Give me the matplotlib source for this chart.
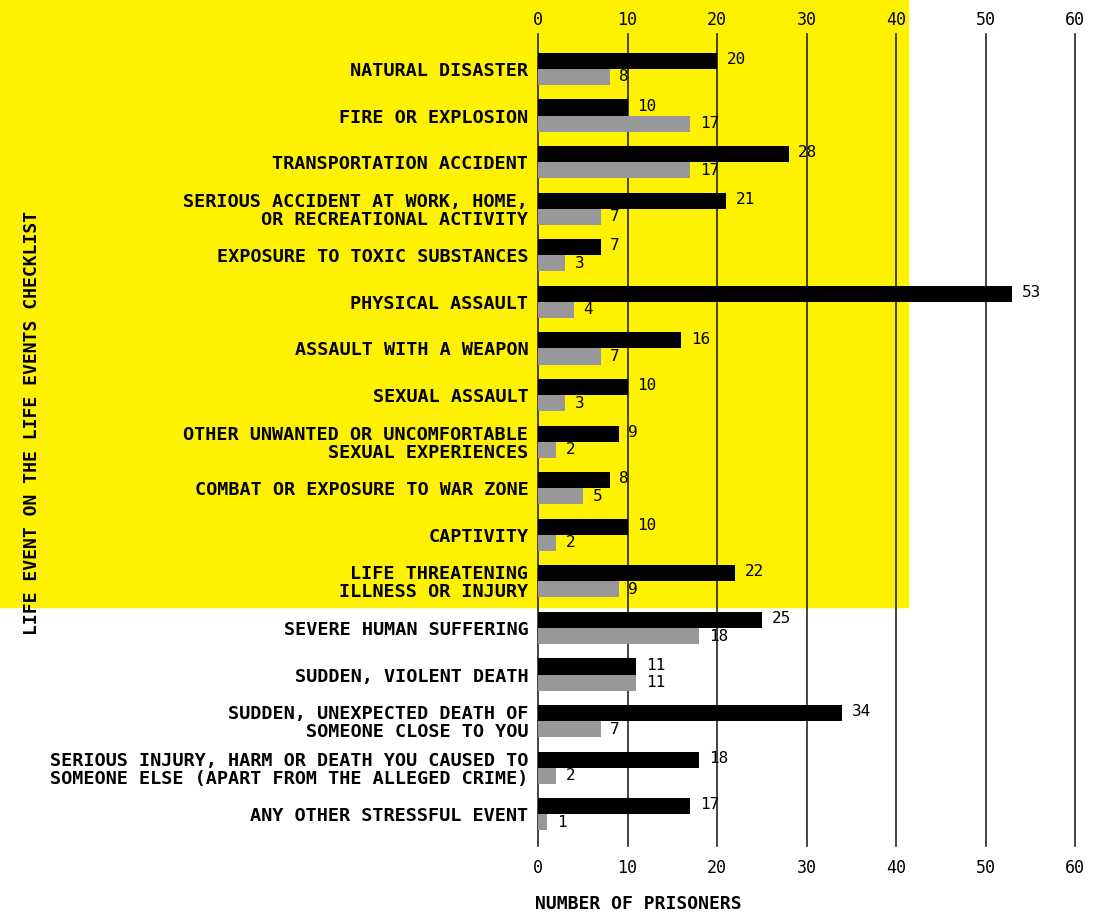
import matplotlib
matplotlib.use('Agg')
import matplotlib.pyplot as plt
from matplotlib.patches import Rectangle
import numpy as np

plt.rcParams['font.family'] = ['DejaVu Sans Mono']

events = ['NATURAL DISASTER',
          'FIRE OR EXPLOSION',
          'TRANSPORTATION ACCIDENT',
          'SERIOUS ACCIDENT AT WORK, HOME,\nOR RECREATIONAL ACTIVITY',
          'EXPOSURE TO TOXIC SUBSTANCES',
          'PHYSICAL ASSAULT',
          'ASSAULT WITH A WEAPON',
          'SEXUAL ASSAULT',
          'OTHER UNWANTED OR UNCOMFORTABLE\nSEXUAL EXPERIENCES',
          'COMBAT OR EXPOSURE TO WAR ZONE',
          'CAPTIVITY',
          'LIFE THREATENING\nILLNESS OR INJURY',
          'SEVERE HUMAN SUFFERING',
          'SUDDEN, VIOLENT DEATH',
          'SUDDEN, UNEXPECTED DEATH OF\nSOMEONE CLOSE TO YOU',
          'SERIOUS INJURY, HARM OR DEATH YOU CAUSED TO\nSOMEONE ELSE (APART FROM THE ALLEGED CRIME)',
          'ANY OTHER STRESSFUL EVENT']
black_vals = [20, 10, 28, 21, 7, 53, 16, 10, 9, 8, 10, 22, 25, 11, 34, 18, 17]
gray_vals = [8, 17, 17, 7, 3, 4, 7, 3, 2, 5, 2, 9, 18, 11, 7, 2, 1]
xticks = [0, 10, 20, 30, 40, 50, 60]

fig = plt.figure(figsize=(11.16, 9.15), dpi=100)

# yellow highlight behind the first twelve events
fig.patches.append(Rectangle((0, 1 - 607 / 915), 908 / 1116, 607 / 915,
                             transform=fig.transFigure, color='#fff200', zorder=-10))

ax = fig.add_axes([538 / 1116, 69 / 915, 537 / 1116, 812 / 915])
ax.set_facecolor('none')
ax.set_zorder(1)

y = np.arange(len(events))
h = 0.345
ax.barh(y - h / 2, black_vals, height=h, color='black', zorder=3)
ax.barh(y + h / 2, gray_vals, height=h, color='#98989a', zorder=3)

for i in range(len(events)):
    ax.annotate(str(black_vals[i]), (black_vals[i], y[i] - h / 2), xytext=(7, 1),
                textcoords='offset points', va='center', ha='left', fontsize=11.5, zorder=4)
    ax.annotate(str(gray_vals[i]), (gray_vals[i], y[i] + h / 2), xytext=(7, 0),
                textcoords='offset points', va='center', ha='left', fontsize=11.5, zorder=4)

ax.set_xlim(0, 60)
ax.set_ylim(len(events) - 0.32, -0.75)
ax.set_xticks(xticks)
ax.grid(axis='x', color='#111111', linewidth=1.1, zorder=1)
for gl in ax.get_xgridlines():
    gl.set_clip_on(False)
ax.tick_params(axis='x', length=0, pad=9.5, labelsize=12)

# top tick labels sit closer to the gridlines than the bottom ones
top = ax.secondary_xaxis('top')
top.set_xticks(xticks)
top.tick_params(length=0, pad=3.5, labelsize=12)
for s in top.spines.values():
    s.set_visible(False)

ax.set_yticks(y)
ax.set_yticklabels(events, fontsize=13.3, fontweight='bold', linespacing=1.0)
ax.tick_params(axis='y', length=0, pad=7)
for s in ax.spines.values():
    s.set_visible(False)

fig.text(32 / 1116, 1 - 423 / 915, 'LIFE EVENT ON THE LIFE EVENTS CHECKLIST',
         rotation=90, ha='center', va='center', fontsize=13, fontweight='bold')
fig.text(638 / 1116, 1 - 904 / 915, 'NUMBER OF PRISONERS',
         ha='center', va='center', fontsize=13, fontweight='bold')

fig.savefig('out.png', dpi=100)
